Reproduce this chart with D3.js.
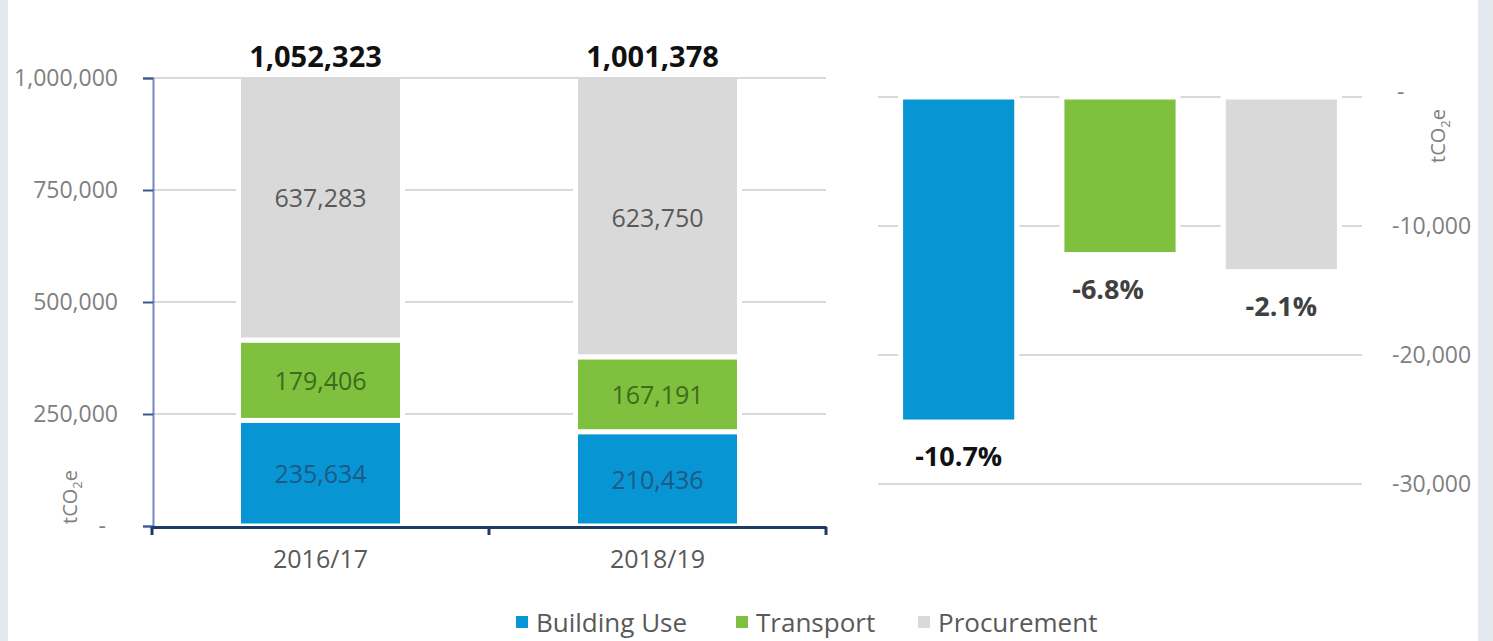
<!DOCTYPE html>
<html>
<head>
<meta charset="utf-8">
<script src="https://cdn.jsdelivr.net/npm/d3@7/dist/d3.min.js"></script>
<style>
body { margin: 0; background: #e4e9ef; }
svg { display: block; font-family: "Open Sans", "Noto Sans", sans-serif; }
</style>
</head>
<body>
<svg width="1493" height="641"></svg>
<script>
// data
years = ["2016/17", "2018/19"];
series = ["Building Use", "Transport", "Procurement"];
buildingUse = [235634, 210436];
transport = [179406, 167191];
procurement = [637283, 623750];
totals = [1052323, 1001378];
change = [-25198, -12215, -13533];
changePct = ["-10.7%", "-6.8%", "-2.1%"];
leftTicks = [0, 250000, 500000, 750000, 1000000];
rightTicks = [0, -10000, -20000, -30000];

colors = ["#0895d4", "#7fc03e", "#d9d9d9"];
labelColors = ["#1d5a85", "#3e6b1c", "#595959"];

fmt = d3.formatLocale({ decimal: ".", thousands: ",", grouping: [3], currency: ["", ""], minus: "-" }).format(",");

svg = d3.select("svg");
widthSvg = +svg.attr("width");
heightSvg = +svg.attr("height");

// background panel
svg.append("rect").attr("width", widthSvg).attr("height", heightSvg).attr("fill", "#e4e9ef");
svg.append("rect").attr("x", 8).attr("width", 1470).attr("height", heightSvg).attr("fill", "#ffffff");

// ---------- left stacked chart ----------
x = d3.scaleBand().domain(years).range([152, 826]).paddingInner(0).paddingOuter(0);
y = d3.scaleLinear().domain([0, 1000000]).range([526, 78]);
barW = 164;

left = svg.append("g").attr("class", "left");

left.selectAll("line.grid")
	.data(leftTicks.slice(1))
	.enter().append("line")
		.attr("x1", 152).attr("x2", 826)
		.attr("y1", function(d) { return y(d) })
		.attr("y2", function(d) { return y(d) })
		.attr("stroke", "#d9d9d9")
		.attr("stroke-width", 2)
;

stackData = years.map(function(yr, i) {
	return { year: yr, "Building Use": buildingUse[i], "Transport": transport[i], "Procurement": procurement[i] };
});
stack = d3.stack().keys(series)(stackData);

left.append("clipPath").attr("id", "plotClip")
	.append("rect").attr("x", 152).attr("y", 79).attr("width", 674).attr("height", 450);

bars = left.append("g").attr("clip-path", "url(#plotClip)");
stack.forEach(function(s, k) {
	s.forEach(function(d, i) {
		bars.append("rect")
			.attr("x", x(years[i]) + x.bandwidth() / 2 - barW / 2)
			.attr("y", y(d[1]) - (k === 2 ? 10 : 0))
			.attr("width", barW)
			.attr("height", y(d[0]) - y(d[1]) + (k === 2 ? 10 : 0))
			.attr("fill", colors[k])
			.attr("stroke", "#ffffff")
			.attr("stroke-width", 5)
		;
	});
});

stack.forEach(function(s, k) {
	s.forEach(function(d, i) {
		left.append("text")
			.attr("x", x(years[i]) + x.bandwidth() / 2)
			.attr("y", (y(d[0]) + y(d[1])) / 2)
			.attr("text-anchor", "middle")
			.attr("dominant-baseline", "central")
			.attr("font-size", 25)
			.attr("fill", labelColors[k])
			.text(fmt(d[1] - d[0]))
		;
	});
});

totals.forEach(function(t, i) {
	left.append("text")
		.attr("x", x(years[i]) + x.bandwidth() / 2 - 5)
		.attr("y", 67)
		.attr("text-anchor", "middle")
		.attr("font-size", 29)
		.attr("font-weight", "bold")
		.attr("fill", "#111111")
		.text(fmt(t))
	;
});

// y axis
yAxis = left.append("g").attr("transform", "translate(153,0)")
	.call(d3.axisLeft(y).tickValues(leftTicks).tickSize(10).tickPadding(25)
		.tickFormat(function(d) { return d === 0 ? "-" : fmt(d) }));
yAxis.select(".domain").attr("stroke", "#7089bb").attr("stroke-width", 2);
yAxis.selectAll(".tick line").attr("stroke", "#3a5488").attr("stroke-width", 2);
yAxis.selectAll(".tick text").attr("fill", "#808080").attr("font-size", 23).attr("font-family", "Open Sans");
yAxis.selectAll(".tick text").filter(function(d) { return d === 0 }).attr("dx", -12);

// x axis
xAxis = left.append("g").attr("transform", "translate(0,527)")
	.call(d3.axisBottom(x).tickSize(0).tickPadding(23));
xAxis.select(".domain").attr("stroke", "#1f3864").attr("stroke-width", 3);
xAxis.selectAll(".tick text").attr("fill", "#595959").attr("font-size", 25).attr("font-family", "Open Sans");
[152, 489, 826].forEach(function(px) {
	xAxis.append("line").attr("x1", px).attr("x2", px).attr("y1", 0).attr("y2", 8)
		.attr("stroke", "#1f3864").attr("stroke-width", 3);
});

unitLeft = left.append("text")
	.attr("transform", "translate(77,497) rotate(-90)")
	.attr("text-anchor", "middle")
	.attr("font-size", 20)
	.attr("fill", "#808080");
unitLeft.append("tspan").text("tCO");
unitLeft.append("tspan").attr("font-size", 13).attr("dy", 5).text("2");
unitLeft.append("tspan").attr("dy", -5).text("e");

// ---------- right change chart ----------
x2 = d3.scaleBand().domain(series).range([878, 1362]).paddingInner(0.28).paddingOuter(0.14);
y2 = d3.scaleLinear().domain([0, -30000]).range([97, 484]);

right = svg.append("g").attr("class", "right");

right.selectAll("line.grid")
	.data(rightTicks)
	.enter().append("line")
		.attr("x1", 878).attr("x2", 1362)
		.attr("y1", function(d) { return y2(d) })
		.attr("y2", function(d) { return y2(d) })
		.attr("stroke", "#d9d9d9")
		.attr("stroke-width", 2)
;

pctShift = [0, -12, 0];
series.forEach(function(s, i) {
	right.append("rect")
		.attr("x", x2(s))
		.attr("y", y2(0))
		.attr("width", x2.bandwidth())
		.attr("height", y2(change[i]) - y2(0))
		.attr("fill", colors[i])
		.attr("stroke", "#ffffff")
		.attr("stroke-width", 5)
	;
	right.append("text")
		.attr("x", x2(s) + x2.bandwidth() / 2 + pctShift[i])
		.attr("y", y2(change[i]) + 44)
		.attr("text-anchor", "middle")
		.attr("font-size", 27)
		.attr("font-weight", "bold")
		.attr("fill", i === 0 ? "#111111" : "#404040")
		.text(changePct[i])
	;
});

yAxis2 = right.append("g").attr("transform", "translate(1392,0)")
	.call(d3.axisRight(y2).tickValues(rightTicks).tickSize(0).tickPadding(0)
		.tickFormat(function(d) { return d === 0 ? "-" : fmt(d) }));
yAxis2.select(".domain").remove();
yAxis2.selectAll(".tick text").attr("fill", "#808080").attr("font-size", 23).attr("font-family", "Open Sans");
yAxis2.selectAll(".tick text").filter(function(d) { return d === 0 }).attr("dx", 5).attr("dy", 2);

unitRight = right.append("text")
	.attr("transform", "translate(1445,136) rotate(-90)")
	.attr("text-anchor", "middle")
	.attr("font-size", 20)
	.attr("fill", "#808080");
unitRight.append("tspan").text("tCO");
unitRight.append("tspan").attr("font-size", 13).attr("dy", 5).text("2");
unitRight.append("tspan").attr("dy", -5).text("e");

// ---------- legend ----------
legendX = [516, 736, 918];
legend = svg.append("g").attr("class", "legend");
series.forEach(function(s, i) {
	legend.append("rect")
		.attr("x", legendX[i]).attr("y", 616).attr("width", 12).attr("height", 12)
		.attr("fill", colors[i]);
	legend.append("text")
		.attr("x", legendX[i] + 20).attr("y", 632)
		.attr("font-size", 26)
		.attr("fill", "#595959")
		.text(s);
});
</script>
</body>
</html>
